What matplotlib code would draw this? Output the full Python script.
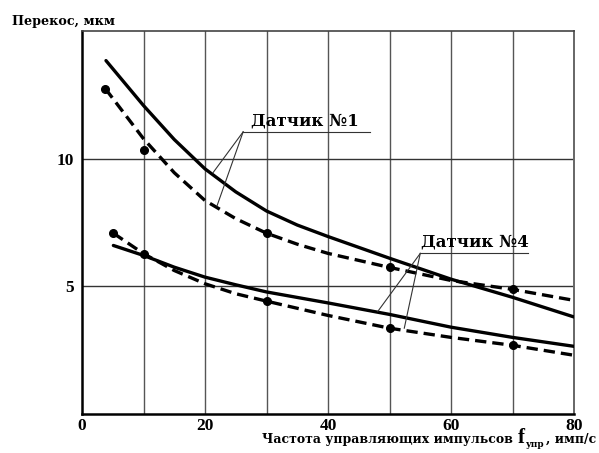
import matplotlib
matplotlib.use('Agg')
import matplotlib.pyplot as plt
from matplotlib.transforms import offset_copy

# --- dane ---
# Датчик №1, linia ciągła
d1_x = [3.9, 10, 15, 20, 25, 30, 35, 40, 50, 60, 70, 80]
d1_y = [13.84, 12.08, 10.75, 9.6, 8.7, 7.95, 7.4, 6.95, 6.1, 5.28, 4.57, 3.8]
# Датчик №1, linia przerywana
d1p_x = [3.8, 10, 15, 20, 25, 30, 35, 40, 50, 60, 70, 80]
d1p_y = [12.74, 10.78, 9.45, 8.36, 7.65, 7.08, 6.65, 6.29, 5.74, 5.23, 4.88, 4.45]
# punkty pomiarowe (kropki) dla №1
d1_pkt_x = [3.8, 10, 30, 50, 70]
d1_pkt_y = [12.74, 10.35, 7.08, 5.74, 4.88]

# Датчик №4, linia ciągła
d4_x = [5.1, 10, 15, 20, 25, 30, 40, 50, 60, 70, 80]
d4_y = [6.6, 6.21, 5.75, 5.36, 5.06, 4.78, 4.35, 3.9, 3.4, 3.0, 2.65]
# Датчик №4, linia przerywana
d4p_x = [5.1, 10, 15, 20, 25, 30, 40, 50, 60, 70, 80]
d4p_y = [7.08, 6.28, 5.62, 5.1, 4.71, 4.42, 3.86, 3.36, 3.0, 2.69, 2.3]
d4_pkt_x = [5.1, 10, 30, 50, 70]
d4_pkt_y = [7.08, 6.25, 4.42, 3.36, 2.69]

x_ticks = [0, 20, 40, 60, 80]
y_ticks = [5, 10]

szeryf = 'DejaVu Serif'
cyfry = 'Liberation Serif'

fig = plt.figure(figsize=(5.99, 4.53), dpi=100)
ax = fig.add_axes([0.1369, 0.0861, 0.8214, 0.8455])

ax.set_xlim(0, 80)
ax.set_ylim(0, 15)

# siatka
for gx in range(10, 80, 10):
    ax.axvline(gx, color='#555555', lw=1.0, zorder=1)
for gy in y_ticks:
    ax.axhline(gy, color='#333333', lw=1.0, zorder=1)

lw = 2.4
kreski = (3.4, 1.8)
ax.plot(d1_x, d1_y, color='black', lw=lw, solid_capstyle='round',
        solid_joinstyle='round', zorder=3)
ax.plot(d1p_x, d1p_y, color='black', lw=lw, dashes=kreski, zorder=3)
ax.plot(d1_pkt_x, d1_pkt_y, 'o', color='black', ms=5.5, zorder=4)
ax.plot(d4_x, d4_y, color='black', lw=lw, solid_capstyle='round',
        solid_joinstyle='round', zorder=3)
ax.plot(d4p_x, d4p_y, color='black', lw=lw, dashes=kreski, zorder=3)
ax.plot(d4_pkt_x, d4_pkt_y, 'o', color='black', ms=5.5, zorder=4)

# opisy z liniami odniesienia
ax.text(36.3, 11.3, 'Датчик №1', family=szeryf, weight='bold', fontsize=12,
        ha='center', va='baseline', zorder=5)
ax.plot([26.2, 46.8], [11.05, 11.05], color='#333333', lw=0.8, zorder=5)
ax.plot([26.2, 21.3], [11.05, 9.45], color='#333333', lw=0.8, zorder=5)
ax.plot([26.2, 21.95], [11.05, 8.15], color='#333333', lw=0.8, zorder=5)

ax.text(63.9, 6.55, 'Датчик №4', family=szeryf, weight='bold', fontsize=12,
        ha='center', va='baseline', zorder=5)
ax.plot([55.0, 72.5], [6.29, 6.29], color='#333333', lw=0.8, zorder=5)
ax.plot([55.0, 48.1], [6.29, 4.02], color='#333333', lw=0.8, zorder=5)
ax.plot([55.0, 52.4], [6.29, 3.36], color='#333333', lw=0.8, zorder=5)

# osie
ax.spines['left'].set_linewidth(1.8)
ax.spines['bottom'].set_linewidth(1.8)
ax.spines['top'].set_color('#444444')
ax.spines['right'].set_color('#666666')
ax.spines['top'].set_linewidth(1.2)
ax.spines['right'].set_linewidth(1.4)

ax.set_xticks(x_ticks)
ax.set_yticks(y_ticks)
ax.tick_params(axis='x', length=0, pad=3)
ax.tick_params(axis='y', length=0, pad=6)
for lab in ax.get_xticklabels() + ax.get_yticklabels():
    lab.set_family(cyfry)
    lab.set_weight('bold')
    lab.set_fontsize(12.5)

# podpisy osi
fig.text(12 / 599, 1 - 21 / 453, 'Перекос, мкм', family=szeryf, weight='bold',
         fontsize=9.2, ha='left', va='center')

# podpis osi x sklejany z kawałków: tekst, duże f, indeks, jednostka
kawalki = [
    ('Частота управляющих импульсов ', 9, 0),
    ('f', 15, 0),
    ('упр', 6.5, -4),
    (', имп/с', 9, 0),
]
fig.canvas.draw()
renderer = fig.canvas.get_renderer()
x0 = 262
for tekst, rozmiar, dy in kawalki:
    rodzina = cyfry if tekst == 'f' else szeryf
    t = fig.text(x0 / 599, 1 - 443 / 453, tekst, family=rodzina, weight='bold',
                 fontsize=rozmiar, ha='left', va='baseline')
    t.set_transform(offset_copy(fig.transFigure, fig=fig, x=0, y=dy, units='dots'))
    x0 = t.get_window_extent(renderer).x1 + 1

fig.savefig('out.png', dpi=100)
